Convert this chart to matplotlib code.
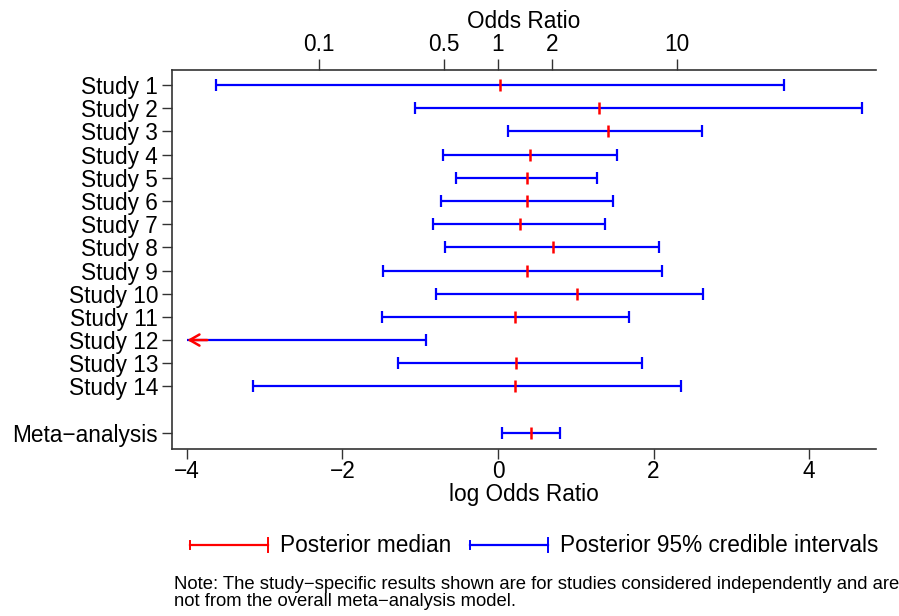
import numpy as np
import matplotlib
matplotlib.use("Agg")
import matplotlib.pyplot as plt
from matplotlib.lines import Line2D

plt.rcParams['font.family'] = ['Liberation Sans', 'DejaVu Sans']

studies = ["Study 1", "Study 2", "Study 3", "Study 4", "Study 5", "Study 6", "Study 7",
           "Study 8", "Study 9", "Study 10", "Study 11", "Study 12", "Study 13", "Study 14"]
medians = [0.03, 1.30, 1.41, 0.41, 0.37, 0.37, 0.28, 0.71, 0.37, 1.02, 0.22, -4.6, 0.23, 0.22]
lower = [-3.63, -1.07, 0.13, -0.71, -0.54, -0.73, -0.84, -0.68, -1.48, -0.80, -1.49, -7.0, -1.29, -3.15]
upper = [3.68, 4.68, 2.62, 1.53, 1.27, 1.48, 1.38, 2.07, 2.11, 2.64, 1.68, -0.93, 1.85, 2.35]
meta_label = "Meta\u2212analysis"
meta_median = 0.42
meta_lower = 0.05
meta_upper = 0.80
or_ticks = [0.1, 0.5, 1, 2, 10]
clip_min = -4.0

FS = 16.3

fig = plt.figure(figsize=(8.99, 6.16), dpi=100)
ax = fig.add_axes([172/899, 1-449/616, (876-172)/899, (449-70)/616])

labels = studies + [meta_label]
ypos = list(range(1, len(studies) + 1)) + [len(studies) + 2]
med = medians + [meta_median]
lo = lower + [meta_lower]
hi = upper + [meta_upper]

blue = '#0000ff'
red = '#ff0000'
msz = 9
for y, m, l, h in zip(ypos, med, lo, hi):
    lc = max(l, clip_min)
    ax.plot([lc, h], [y, y], color=blue, lw=1.6, solid_capstyle='butt', zorder=2)
    ax.plot([h], [y], marker='|', color=blue, ms=msz, mew=1.6, zorder=3)
    if l >= clip_min:
        ax.plot([l], [y], marker='|', color=blue, ms=msz, mew=1.6, zorder=3)
    else:
        ax.annotate('', xy=(clip_min - 0.03, y), xytext=(clip_min + 0.3, y),
                    arrowprops=dict(arrowstyle='->,head_length=0.7,head_width=0.4',
                                    color=red, lw=1.8), zorder=4)
    if m >= clip_min:
        ax.plot([m], [y], marker='|', color=red, ms=msz, mew=1.8, zorder=4)

ax.set_xlim(-4.19, 4.86)
ax.set_ylim(16.7, 0.35)
ax.set_yticks(ypos)
ax.set_yticklabels(labels, fontsize=FS)
ax.set_xticks([-4, -2, 0, 2, 4])
ax.set_xticklabels(["\u22124", "\u22122", "0", "2", "4"], fontsize=FS)
ax.set_xlabel("log Odds Ratio", fontsize=FS, labelpad=0)
ax.tick_params(axis='both', direction='out', length=7, width=1, color='#333333')
ax.tick_params(axis='x', pad=1)
ax.tick_params(axis='y', pad=3)
ax.spines['right'].set_visible(False)
for s in ['left', 'bottom', 'top']:
    ax.spines[s].set_color('#333333')
    ax.spines[s].set_linewidth(1.2)

sec = ax.secondary_xaxis('top', functions=(np.exp, np.log))
sec.set_xticks(or_ticks)
sec.set_xticklabels([f"{t:g}" for t in or_ticks], fontsize=FS)
sec.set_xlabel("Odds Ratio", fontsize=FS, labelpad=4)
sec.tick_params(direction='out', length=8, width=1, color='#333333', pad=2)
sec.spines['top'].set_visible(False)

# legend drawn manually
ly = 1 - 545/616
def leg_item(x0, x1, color, text, tx):
    fig.add_artist(Line2D([x0/899, x1/899], [ly, ly], color=color, lw=1.6, transform=fig.transFigure))
    for xx, hh in ((x0, 4), (x1, 7)):
        fig.add_artist(Line2D([xx/899, xx/899], [ly - hh/616, ly + hh/616], color=color, lw=1.4,
                              transform=fig.transFigure))
    fig.text(tx/899, ly, text, fontsize=FS, va='center', ha='left')

leg_item(190, 268, red, "Posterior median", 280)
leg_item(470, 548, blue, "Posterior 95% credible intervals", 560)

fig.text(174/899, 1-593/616,
         "Note: The study\u2212specific results shown are for studies considered independently and are\n"
         "not from the overall meta\u2212analysis model.",
         fontsize=13.3, va='center', ha='left', linespacing=0.95)

fig.savefig("out.png", dpi=100)
